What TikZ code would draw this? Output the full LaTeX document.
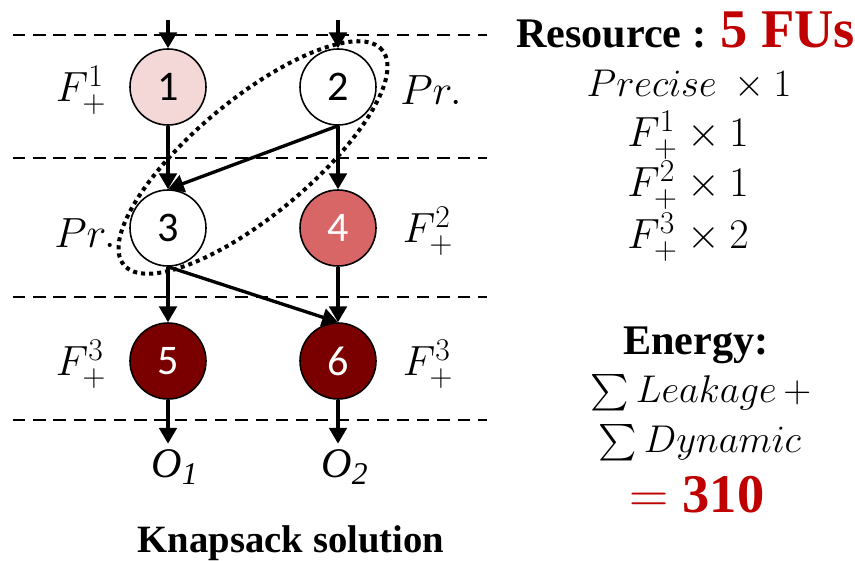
\documentclass[tikz,border=0pt]{standalone}
\usepackage{fix-cm}
\usepackage{exscale}
\usepackage{fontspec}
\setmainfont{Liberation Serif}
\newfontfamily\calfont{Carlito}
\DeclareMathSizes{24}{24}{18}{13}
\DeclareMathSizes{22}{22}{16.5}{12}
\usetikzlibrary{arrows.meta,shapes.geometric,calc}
\definecolor{pinkish}{RGB}{244,215,215}
\definecolor{rose}{RGB}{217,102,102}
\definecolor{maroon}{RGB}{122,0,0}
\definecolor{hotred}{RGB}{192,0,0}

\begin{document}
\begin{tikzpicture}
    \tikzset{%
      task/.style={circle, draw, line width=0.9pt, fill=white, minimum
        size=1.52cm, inner sep=0pt, font=\calfont\fontsize{24}{24}\selectfont},
      hot/.style={task, text=white},
      lane/.style={line width=1.1pt, dash pattern=on 7pt off 4.5pt},
      flow/.style={line width=1.9pt, -{Triangle[length=9pt,width=10pt]}},
      group/.style={ellipse, draw, line width=2.3pt, dash pattern=on
        2.3pt off 2.3pt, inner sep=0pt, minimum width=6.72cm, minimum
        height=2.32cm, rotate=39.7},
      unit/.style={inner sep=0pt, font=\fontsize{24}{24}\selectfont},
      info/.style={inner sep=1pt, font=\fontsize{22}{22}\selectfont},
      head/.style={inner sep=1pt, font=\bfseries\fontsize{24}{24}\selectfont},
      big/.style={text=hotred, inner sep=1pt, font=\bfseries\fontsize{31}{31}\selectfont},
      outl/.style={font=\itshape\fontsize{24}{24}\selectfont},
      foot/.style={font=\bfseries\fontsize{22}{22}\selectfont},
    }
    \useasboundingbox (0,0) rectangle (17.1,-11.2);
    % lanes
    \foreach \y in {-0.70,-3.16,-5.94,-8.40}
      \draw[lane] (0.26,\y) -- (9.74,\y);

    % tasks
    \node[task, fill=pinkish] (n1) at (3.36,-1.74) {1};
    \node[task] (n2) at (6.76,-1.74) {2};
    \node[task] (n3) at (3.36,-4.56) {3};
    \node[hot, fill=rose] (n4) at (6.76,-4.56) {4};
    \node[hot, fill=maroon] (n5) at (3.36,-7.22) {5};
    \node[hot, fill=maroon] (n6) at (6.76,-7.22) {6};

    % unit of each task
    \node[unit] (u1) at (1.62,-1.80) {$F_+^1$};
    \node[unit] (u2) at (8.62,-1.80) {$Pr.$};
    \node[unit] (u3) at (1.70,-4.66) {$Pr.$};
    \node[unit] (u4) at (8.56,-4.62) {$F_+^2$};
    \node[unit] (u5) at (1.62,-7.28) {$F_+^3$};
    \node[unit] (u6) at (8.56,-7.28) {$F_+^3$};

    % inputs and outputs
    \coordinate (i1) at (3.36,-0.40);
    \coordinate (i2) at (6.76,-0.40);
    \node[outl] (o1) at (3.50,-9.34) {O\textsubscript{1}};
    \node[outl] (o2) at (6.90,-9.34) {O\textsubscript{2}};

    \draw[flow] (i1) -- (n1);
    \draw[flow] (i2) -- (n2);
    \draw[flow] (n1) -- (n3);
    \draw[flow] (n2.south) -- (n3.north);
    \draw[flow] (n2) -- (n4);
    \draw[flow] (n3) -- (n5);
    \draw[flow] (n3.south) -- (n6.north);
    \draw[flow] (n4) -- (n6);
    \draw[flow] (n5) -- (n5 |- o1.north);
    \draw[flow] (n6) -- (n6 |- o2.north);

    % precise pair
    \node[group] (grp) at ($(n2)!0.5!(n3)$) {};

    % resources and energy
    \node[head] (res) at (13.71,-0.60) {Resource :
      \textcolor{hotred}{\fontsize{31}{31}\selectfont 5 FUs}};
    \node[info] (prec) at (13.78,-1.70) {$Precise\ \times 1$};
    \node[unit] (fa) at (13.76,-2.70) {$F_+^1 \times 1$};
    \node[unit] (fb) at (13.76,-3.70) {$F_+^2 \times 1$};
    \node[unit] (fc) at (13.76,-4.74) {$F_+^3 \times 2$};
    \node[head] (en) at (13.92,-6.90) {Energy:};
    \node[info] (leak) at (14.02,-7.86) {$\sum Leakage\,+$};
    \node[info] (dyn) at (14.00,-8.86) {$\sum Dynamic$};
    \node[big] (tot) at (13.94,-9.90) {$=$ 310};

    \node[foot] (cap) at (5.82,-10.86) {Knapsack solution};
\end{tikzpicture}
\end{document}
